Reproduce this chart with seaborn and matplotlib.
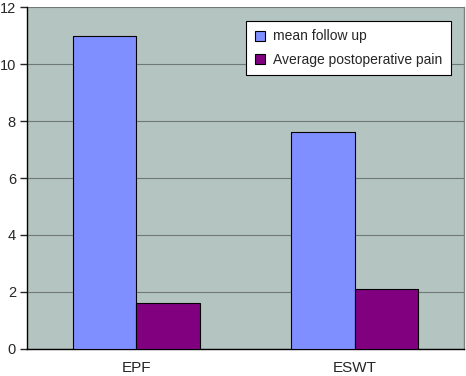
import matplotlib
matplotlib.use("Agg")
import matplotlib.pyplot as plt
import pandas as pd
import seaborn as sns

# 数据
groups = ["EPF", "ESWT"]
series_names = ["mean follow up", "Average postoperative pain"]
mean_follow_up = [11.0, 7.6]
avg_pain = [1.6, 2.1]
y_ticks = [0, 2, 4, 6, 8, 10, 12]

df = pd.DataFrame({
    "group": groups * 2,
    "series": [series_names[0]] * len(groups) + [series_names[1]] * len(groups),
    "value": mean_follow_up + avg_pain,
})

sns.set_style("white")
plt.rcParams["font.family"] = ["Liberation Sans", "DejaVu Sans"]

fig = plt.figure(figsize=(4.66, 3.76), dpi=100)
ax = fig.add_axes([0.058, 0.072, 0.938, 0.909])
ax.set_facecolor("#b4c4c0")

sns.barplot(data=df, x="group", y="value", hue="series", order=groups,
            hue_order=series_names, palette=["#7f8fff", "#800080"],
            saturation=1, width=0.58, edgecolor="black", linewidth=0.8,
            ax=ax, zorder=3)

ax.set_ylim(0, 12)
ax.set_xlim(-0.5, 1.5)
ax.set_yticks(y_ticks)
ax.yaxis.grid(True, color="#6e7a78", linewidth=0.8, zorder=0)
ax.set_axisbelow(True)

# 分类刻度放在分组之间
ax.set_xticks([0, 1])
ax.set_xticklabels(groups)
ax.tick_params(axis="x", length=0, labelsize=11, pad=9)
ax.set_xticks([-0.5, 0.5, 1.5], minor=True)
ax.tick_params(axis="x", which="minor", length=5, width=1, direction="out")
ax.tick_params(axis="y", length=5, width=1, direction="out", labelsize=10.5, pad=3, left=True)

ax.set_xlabel("")
ax.set_ylabel("")
for side in ["left", "bottom"]:
    ax.spines[side].set_color("black")
    ax.spines[side].set_linewidth(1)
ax.spines["top"].set_visible(False)
ax.spines["right"].set_color("#808080")
ax.spines["right"].set_linewidth(1)

leg = ax.legend(loc="upper right", bbox_to_anchor=(0.970, 0.959), fontsize=10,
                frameon=True, fancybox=False, edgecolor="black", framealpha=1,
                handlelength=0.75, handleheight=0.75, handletextpad=0.6,
                borderpad=0.6, labelspacing=0.65, borderaxespad=0)
leg.get_frame().set_linewidth(0.8)

fig.savefig("out.png", dpi=100)
